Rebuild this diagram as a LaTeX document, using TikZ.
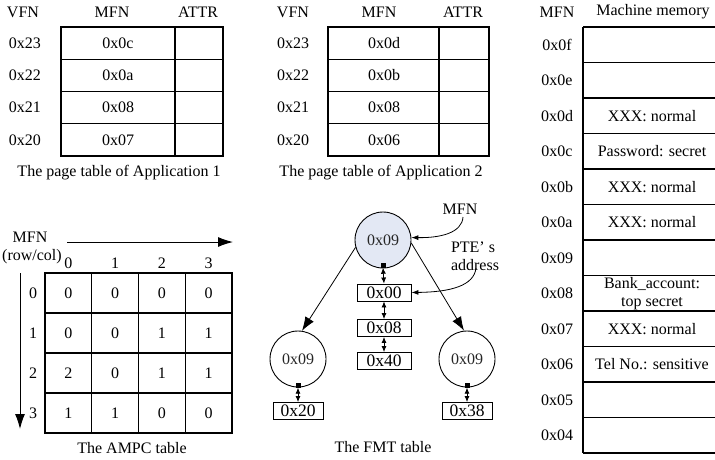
\documentclass[tikz,border=0pt]{standalone}
\usepackage{fontspec}
\setmainfont{Liberation Serif}
\usetikzlibrary{arrows.meta}
\begin{document}
\begin{tikzpicture}[x=1pt,y=-1pt,
  txt/.style={font=\fontsize{16}{18}\selectfont, inner sep=0pt, anchor=center},
  tline/.style={line width=1.1pt, black},
  circ/.style={circle, draw, line width=0.9pt, minimum size=56pt, inner sep=0pt, font=\fontsize{16}{18}\selectfont, text=black!85},
  fbox/.style={draw, line width=0.9pt, minimum width=54pt, minimum height=17pt, inner sep=0pt, font=\fontsize{17.5}{18}\selectfont},
  sqmark/.style={fill=black, minimum size=5pt, inner sep=0pt},
  bigarrow/.style={-{Latex[length=14pt,width=10pt]}, line width=0.8pt},
  dblarrow/.style={{Latex[length=6pt,width=5pt]}-{Latex[length=6pt,width=5pt]}, line width=0.8pt},
  curvearrow/.style={-{Latex[length=7pt,width=5pt]}, line width=0.8pt},
  axisarrow/.style={-{Latex[length=15pt,width=10pt]}, line width=1pt}
]
\useasboundingbox (0,0) rectangle (715,459);

% ---------- Page table of Application 1 ----------
\node[txt] (t1vfn) at (23,12) {VFN};
\node[txt] (t1mfn) at (112,12) {MFN};
\node[txt] (t1attr) at (198,12) {ATTR};
\draw[tline] (61,27) rectangle (223,156);
\draw[tline] (175,27) -- (175,156);
\foreach \y in {59.25,91.5,123.75} \draw[tline] (61,\y) -- (223,\y);
\node[txt] (t1v3) at (25,43.1) {0x23};
\node[txt] (t1v2) at (25,75.4) {0x22};
\node[txt] (t1v1) at (25,107.6) {0x21};
\node[txt] (t1v0) at (25,139.9) {0x20};
\node[txt] (t1m3) at (118,43.1) {0x0c};
\node[txt] (t1m2) at (118,75.4) {0x0a};
\node[txt] (t1m1) at (118,107.6) {0x08};
\node[txt] (t1m0) at (118,139.9) {0x07};
\node[txt] (t1cap) at (119,173) {The page table of Application 1};

% ---------- Page table of Application 2 ----------
\node[txt] (t2vfn) at (293,12) {VFN};
\node[txt] (t2mfn) at (379,12) {MFN};
\node[txt] (t2attr) at (463,12) {ATTR};
\draw[tline] (328,27) rectangle (489,156);
\draw[tline] (439,27) -- (439,156);
\foreach \y in {59.25,91.5,123.75} \draw[tline] (328,\y) -- (489,\y);
\node[txt] (t2v3) at (293,43.1) {0x23};
\node[txt] (t2v2) at (293,75.4) {0x22};
\node[txt] (t2v1) at (293,107.6) {0x21};
\node[txt] (t2v0) at (293,139.9) {0x20};
\node[txt] (t2m3) at (384,43.1) {0x0d};
\node[txt] (t2m2) at (384,75.4) {0x0b};
\node[txt] (t2m1) at (384,107.6) {0x08};
\node[txt] (t2m0) at (384,139.9) {0x06};
\node[txt] (t2cap) at (381,173) {The page table of Application 2};

% ---------- Machine memory ----------
\node[txt] (mmfn) at (557,12) {MFN};
\node[txt] (mmhead) at (653,12) {Machine memory};
\draw[tline] (583,27) -- (583,453);
\foreach \i in {0,...,12} \draw[tline] (583,{27+35.5*\i}) -- (716,{27+35.5*\i});
\foreach \lab [count=\i from 0] in {0x0f,0x0e,0x0d,0x0c,0x0b,0x0a,0x09,0x08,0x07,0x06,0x05,0x04}
  \node[txt] (mlab\i) at (557,{44.75+35.5*\i}) {\lab};
\node[txt] (mc2) at (652,115.75) {XXX: normal};
\node[txt] (mc3) at (652,151.25) {Password: secret};
\node[txt] (mc4) at (652,186.75) {XXX: normal};
\node[txt] (mc5) at (652,222.25) {XXX: normal};
\node[txt, align=center] (mc7) at (652,293.25) {Bank\_account:\\top secret};
\node[txt] (mc8) at (652,328.75) {XXX: normal};
\node[txt] (mc9) at (652,364.25) {Tel No.: sensitive};

% ---------- AMPC table ----------
\node[txt] (amfn) at (30,237) {MFN};
\node[txt] (arc) at (32,257) {(row/col)};
\coordinate (ahs) at (67,242);
\coordinate (ahe) at (233,242);
\draw[axisarrow] (ahs) -- (ahe);
\coordinate (avs) at (20,273);
\coordinate (ave) at (20,429);
\draw[axisarrow] (avs) -- (ave);
\draw[tline] (45,273) rectangle (232,433);
\foreach \x in {91.75,138.5,185.25} \draw[tline] (\x,273) -- (\x,433);
\foreach \y in {313,353,393} \draw[tline] (45,\y) -- (232,\y);
\foreach \c in {0,1,2,3} {
  \node[txt] (ach\c) at ({68.4+46.75*\c},263) {\c};
  \node[txt] (arh\c) at (33,{293+40*\c}) {\c};
}
\foreach \r/\vals in {0/{0,0,0,0},1/{0,0,1,1},2/{2,0,1,1},3/{1,1,0,0}} {
  \foreach \v [count=\c from 0] in \vals
    \node[txt] (acell\r\c) at ({68.4+46.75*\c},{293+40*\r}) {\v};
}
\node[txt] (acap) at (132,448) {The AMPC table};

% ---------- FMT table ----------
\node[circ, fill={rgb,255:red,227;green,232;blue,244}] (big) at (383,240) {0x09};
\node[circ] (lc) at (298,359) {0x09};
\node[circ] (rc) at (467,359) {0x09};
\node[fbox] (b00) at (384,292.5) {0x00};
\node[fbox] (b08) at (384,328) {0x08};
\node[fbox] (b40) at (384,361) {0x40};
\node[fbox, minimum width=50pt] (b20) at (298,411) {0x20};
\node[fbox, minimum width=50pt] (b38) at (467,411) {0x38};
\node[sqmark] (sqb) at (383,265) {};
\node[sqmark] (sql) at (298,385) {};
\node[sqmark] (sqr) at (467,385) {};
\draw[dblarrow] (sqb.south) -- (b00.north);
\draw[dblarrow] (b00.south) -- (b08.north);
\draw[dblarrow] (b08.south) -- (b40.north);
\draw[dblarrow] (sql.south) -- (b20.north);
\draw[dblarrow] (sqr.south) -- (b38.north);
\draw[bigarrow] (big.195) -- (lc.82);
\draw[bigarrow] (big.-6) -- (rc.96);
\node[txt] (fmfn) at (460,209) {MFN};
\node[txt] (fpte) at (473,247) {PTE’ s};
\node[txt] (faddr) at (475,265) {address};
\coordinate (mfnfoot) at (463,217);
\draw[curvearrow] (mfnfoot) .. controls (462,233) and (440,238) .. (big.5);
\coordinate (addrfoot) at (476,268);
\draw[curvearrow] (addrfoot) .. controls (474,286) and (450,292) .. (b00.east);
\node[txt] (fcap) at (383,447) {The FMT table};
\end{tikzpicture}
\end{document}
